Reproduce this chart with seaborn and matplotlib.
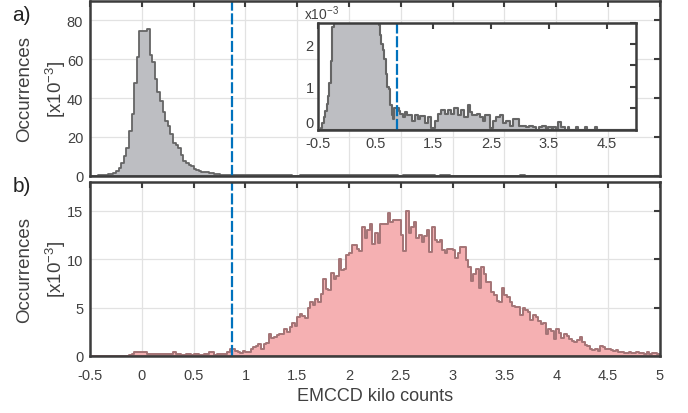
import numpy as np
import pandas as pd
import matplotlib
matplotlib.use("Agg")
import matplotlib.pyplot as plt
import seaborn as sns

# bin heights in units of 1e-3, bins of 0.025 kilo counts from -0.5 to 5
occ_a = [0, 0, 0.05, 0.15, 0.3, 0.45, 0.6, 0.8, 1.1, 1.6,
         2.4, 4.0, 6.6, 10, 14.4, 23, 31.7, 48, 61, 74.5,
         74.5, 74.8, 75.6, 62, 58.5, 50, 43, 38.6, 32.6, 28.2,
         25.6, 21.3, 17, 16.1, 14.4, 10.9, 7.4, 6.6, 5.7, 4.8,
         3.6, 2.8, 2.45, 2.2, 2.0, 1.85, 1.65, 1.3, 1.0, 0.95,
         0.57, 0.35, 0.26, 0.5, 0.5, 0.5, 0.44, 0.38, 0.38, 0.29,
         0.42, 0.42, 0.34, 0.34, 0.34, 0.21, 0.21, 0.34, 0.34, 0.25,
         0.25, 0.32, 0.32, 0.32, 0.17, 0.17, 0.29, 0.29, 0.05, 0.05,
         0.05, 0.21, 0.21, 0.38, 0.38, 0.46, 0.46, 0.46, 0.38, 0.38,
         0.46, 0.46, 0.38, 0.38, 0.5, 0.5, 0.5, 0.34, 0.34, 0.46,
         0.46, 0.29, 0.29, 0.29, 0.58, 0.42, 0.42, 0.34, 0.34, 0.34,
         0.38, 0.38, 0.29, 0.29, 0.21, 0.21, 0.34, 0.34, 0.34, 0.05,
         0.05, 0.21, 0.21, 0.29, 0.29, 0.29, 0.34, 0.34, 0.17, 0.17,
         0.21, 0.21, 0.21, 0.08, 0.08, 0.25, 0.25, 0.25, 0.25, 0.08,
         0.08, 0.08, 0.08, 0.08, 0.06, 0.06, 0.08, 0.08, 0.08, 0.06,
         0.06, 0, 0, 0.06, 0.06, 0.08, 0.08, 0.08, 0, 0.06,
         0.06, 0.06, 0, 0.06, 0.06, 0, 0.19, 0.19, 0.06, 0.06,
         0.06, 0, 0, 0.06, 0, 0, 0, 0, 0, 0.06,
         0, 0, 0, 0, 0, 0.06, 0, 0, 0, 0,
         0, 0, 0.06, 0, 0, 0, 0, 0, 0, 0,
         0, 0, 0, 0, 0, 0, 0, 0, 0, 0,
         0, 0, 0, 0, 0, 0, 0, 0, 0, 0]

occ_b = [0, 0, 0, 0, 0, 0, 0, 0, 0, 0,
         0, 0, 0, 0, 0, 0.07, 0.2, 0.35, 0.45, 0.4,
         0.35, 0.35, 0.17, 0.17, 0.24, 0.24, 0.17, 0.17, 0.24, 0.24,
         0.17, 0.17, 0.35, 0.17, 0.17, 0.1, 0.1, 0.17, 0.17, 0.07,
         0.17, 0.17, 0.1, 0.1, 0.17, 0.17, 0.35, 0.35, 0.1, 0.17,
         0.17, 0.24, 0.24, 0.35, 0.76, 0.7, 0.55, 0.42, 0.28, 0.52,
         0.45, 0.35, 0.7, 0.87, 1.03, 1.2, 0.7, 1.2, 1.3, 2.26,
         1.8, 2.0, 2.15, 2.26, 2.26, 2.78, 2.5, 2.95, 3.4, 3.05,
         4.0, 4.3, 4.17, 3.89, 4.93, 5.56, 5.3, 5.9, 5.56, 6.43,
         8.0, 6.95, 6.8, 8.6, 8.0, 8.3, 10.0, 8.85, 9.0, 10.4,
         10.6, 11.5, 11.5, 11.1, 10.9, 13.3, 12.2, 13.0, 13.6, 11.6,
         12.7, 11.7, 13.7, 13.7, 13.7, 14.8, 13.9, 14.1, 14.1, 14.1,
         12.5, 10.9, 15.0, 12.7, 13.3, 13.9, 12.2, 12.5, 11.8, 12.4,
         13.0, 10.8, 13.3, 12.0, 11.8, 12.0, 10.95, 10.6, 11.1, 11.1,
         11.0, 10.1, 10.6, 11.3, 11.3, 9.9, 9.2, 7.8, 8.5, 9.0,
         7.0, 9.2, 8.5, 7.6, 7.6, 6.6, 6.3, 5.7, 5.6, 7.0,
         6.3, 6.1, 5.6, 5.15, 5.05, 5.05, 4.2, 4.97, 4.7, 4.5,
         3.75, 4.2, 4.0, 3.65, 3.3, 3.4, 2.3, 2.8, 2.6, 1.74,
         2.8, 2.4, 1.81, 2.26, 2.1, 1.74, 1.56, 1.4, 1.67, 2.0,
         1.46, 1.1, 0.97, 0.69, 0.62, 0.76, 0.52, 0.97, 0.87, 0.69,
         0.76, 0.6, 0.52, 0.62, 0.42, 0.4, 0.3, 0.28, 0.42, 0.28,
         0.3, 0.35, 0.28, 0.28, 0.24, 0.35, 0.24, 0.28, 0.28, 0.17]

threshold = 0.865
xticks = [-0.5, 0, 0.5, 1, 1.5, 2, 2.5, 3, 3.5, 4, 4.5, 5]
xticklabels = ["-0.5", "0", "0.5", "1", "1.5", "2", "2.5", "3", "3.5", "4", "4.5", "5"]
inset_xticks = [-0.5, 0.5, 1.5, 2.5, 3.5, 4.5]
inset_yticks = [0, 0.5, 1, 1.5, 2, 2.5]
inset_yticklabels = ["0", "", "1", "", "2", ""]

nbins = len(occ_a)
edges = np.linspace(-0.5, 5, nbins + 1)
centers = (edges[:-1] + edges[1:]) / 2
df = pd.DataFrame({"counts": centers, "a": occ_a, "b": occ_b})

sns.set_style("white")
plt.rcParams["font.family"] = ["Liberation Sans", "DejaVu Sans"]
plt.rcParams["mathtext.fontset"] = "custom"
plt.rcParams["mathtext.rm"] = "Liberation Sans"
plt.rcParams["mathtext.default"] = "regular"

txt = "#404040"
spine = "#3c3c3c"
gray_fill, gray_edge = "#bdbec2", "#656565"
pink_fill, pink_edge = "#f5b0b2", "#a47476"
blue = "#0072bd"

fig = plt.figure(figsize=(6.88, 4.14), dpi=100)
ax_a = fig.add_axes([0.131, 0.573, 0.828, 0.422])
ax_b = fig.add_axes([0.131, 0.138, 0.828, 0.420])


def style(ax, grid=True, size=10.5):
    for s in ax.spines.values():
        s.set_color(spine)
        s.set_linewidth(1.8)
    ax.tick_params(direction="in", length=4, width=1.5, color=spine,
                   top=True, right=True, labelsize=size, labelcolor=txt, pad=5)
    if grid:
        ax.grid(True, color="#e2e2e2", lw=0.9)
        ax.set_axisbelow(True)


def hist(ax, col, fc, ec, lw):
    sns.histplot(data=df, x="counts", weights=col, bins=nbins, binrange=(-0.5, 5),
                 element="step", fill=True, facecolor=fc, edgecolor=ec,
                 linewidth=lw, alpha=1, ax=ax)


ylab = "Occurrences\n[x10$^{-3}$]"

hist(ax_a, "a", gray_fill, gray_edge, 1.3)
ax_a.axvline(threshold, color=blue, lw=1.6, ls=(0, (5, 1.2)))
ax_a.set_xlim(-0.5, 5)
ax_a.set_ylim(0, 90)
ax_a.set_xticks(xticks)
ax_a.set_xticklabels([])
ax_a.set_yticks([0, 20, 40, 60, 80])
ax_a.set_xlabel("")
ax_a.set_ylabel(ylab, fontsize=13.5, color=txt, labelpad=-1, linespacing=1.6)
style(ax_a)

hist(ax_b, "b", pink_fill, pink_edge, 1.4)
ax_b.axvline(threshold, color=blue, lw=1.6, ls=(0, (5, 1.2)))
ax_b.set_xlim(-0.5, 5)
ax_b.set_ylim(0, 18)
ax_b.set_xticks(xticks)
ax_b.set_xticklabels(xticklabels)
ax_b.set_yticks([0, 5, 10, 15])
ax_b.set_xlabel("EMCCD kilo counts", fontsize=13, color=txt, labelpad=3)
ax_b.set_ylabel(ylab, fontsize=13.5, color=txt, labelpad=-1, linespacing=1.6)
style(ax_b)
ax_b.tick_params(axis="x", pad=9)

# inset zoom on the tail of panel a
ax_in = fig.add_axes([0.462, 0.684, 0.462, 0.259])
ax_in.set_facecolor("white")
hist(ax_in, "a", gray_fill, gray_edge, 1.5)
ax_in.axvline(threshold, color=blue, lw=1.6, ls=(0, (5, 1.2)))
ax_in.set_xlim(-0.5, 5)
ax_in.set_ylim(0, 2.5)
ax_in.set_xticks(inset_xticks)
ax_in.set_xticklabels(["-0.5", "0.5", "1.5", "2.5", "3.5", "4.5"])
ax_in.set_yticks(inset_yticks)
ax_in.set_yticklabels(inset_yticklabels)
ax_in.set_xlabel("")
ax_in.set_ylabel("")
style(ax_in, grid=False, size=10.5)
ax_in.tick_params(axis="y", pad=3)
ax_in.tick_params(axis="x", pad=4.5)
ax_in.get_yticklabels()[0].set_verticalalignment("bottom")
ax_in.text(-0.045, 1.01, "x10$^{-3}$", transform=ax_in.transAxes,
           fontsize=10, color=txt, ha="left", va="bottom")

fig.text(0.018, 0.963, "a)", fontsize=15, color="#222222", va="center")
fig.text(0.018, 0.550, "b)", fontsize=15, color="#222222", va="center")

fig.savefig("out.png", dpi=100)
